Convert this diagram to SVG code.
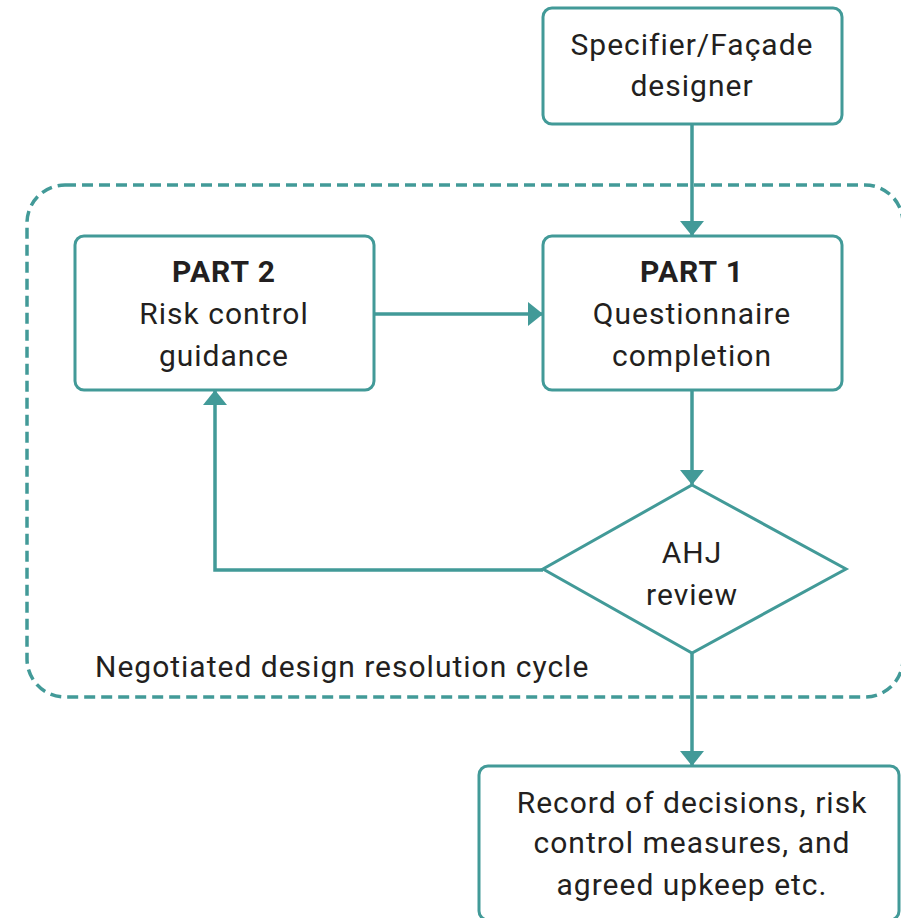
<svg xmlns="http://www.w3.org/2000/svg" width="901" height="918" viewBox="0 0 901 918">
<style>
.box{fill:#fff;stroke:#429a98;stroke-width:3}
.line{fill:none;stroke:#429a98;stroke-width:3.5}
.dash{fill:none;stroke:#429a98;stroke-width:3.5;stroke-dasharray:11 6}
text{font-family:Roboto,"Liberation Sans",sans-serif;font-size:30px;letter-spacing:1px;fill:#231f20;text-anchor:middle}
.b{font-weight:bold}
</style>
<defs>
<marker id="ah" viewBox="0 0 15 24" refX="15" refY="12" markerWidth="15" markerHeight="24" markerUnits="userSpaceOnUse" orient="auto">
<path d="M0,0 L15,12 L0,24 Z" fill="#429a98"/>
</marker>
</defs>
<rect id="cycle" class="dash" x="27" y="185" width="876" height="512" rx="38"/>
<text x="95" y="677" style="text-anchor:start">Negotiated design resolution cycle</text>
<g id="connectors">
<line class="line" x1="692" y1="124" x2="692" y2="236" marker-end="url(#ah)"/>
<line class="line" x1="374" y1="314" x2="543" y2="314" marker-end="url(#ah)"/>
<line class="line" x1="692" y1="390" x2="692" y2="485" marker-end="url(#ah)"/>
<polyline class="line" points="543,570 215,570 215,390" marker-end="url(#ah)"/>
<line class="line" x1="692" y1="653" x2="692" y2="766" marker-end="url(#ah)"/>
</g>
<g id="specifier">
<rect class="box" x="543" y="8" width="299" height="116" rx="9"/>
<text x="692" y="55">Specifier/Façade</text>
<text x="692" y="96">designer</text>
</g>
<g id="part2">
<rect class="box" x="75" y="236" width="299" height="154" rx="9"/>
<text x="224" y="282" class="b">PART 2</text>
<text x="224" y="324">Risk control</text>
<text x="224" y="366">guidance</text>
</g>
<g id="part1">
<rect class="box" x="543" y="236" width="299" height="154" rx="9"/>
<text x="692" y="282" class="b">PART 1</text>
<text x="692" y="324">Questionnaire</text>
<text x="692" y="366">completion</text>
</g>
<g id="ahj">
<polygon class="box" points="692,485 846,569 692,653 543,569"/>
<text x="692" y="563">AHJ</text>
<text x="692" y="605">review</text>
</g>
<g id="record">
<rect class="box" x="479" y="766" width="420" height="154" rx="9"/>
<text x="692" y="813">Record of decisions, risk</text>
<text x="692" y="853">control measures, and</text>
<text x="692" y="895">agreed upkeep etc.</text>
</g>
</svg>
